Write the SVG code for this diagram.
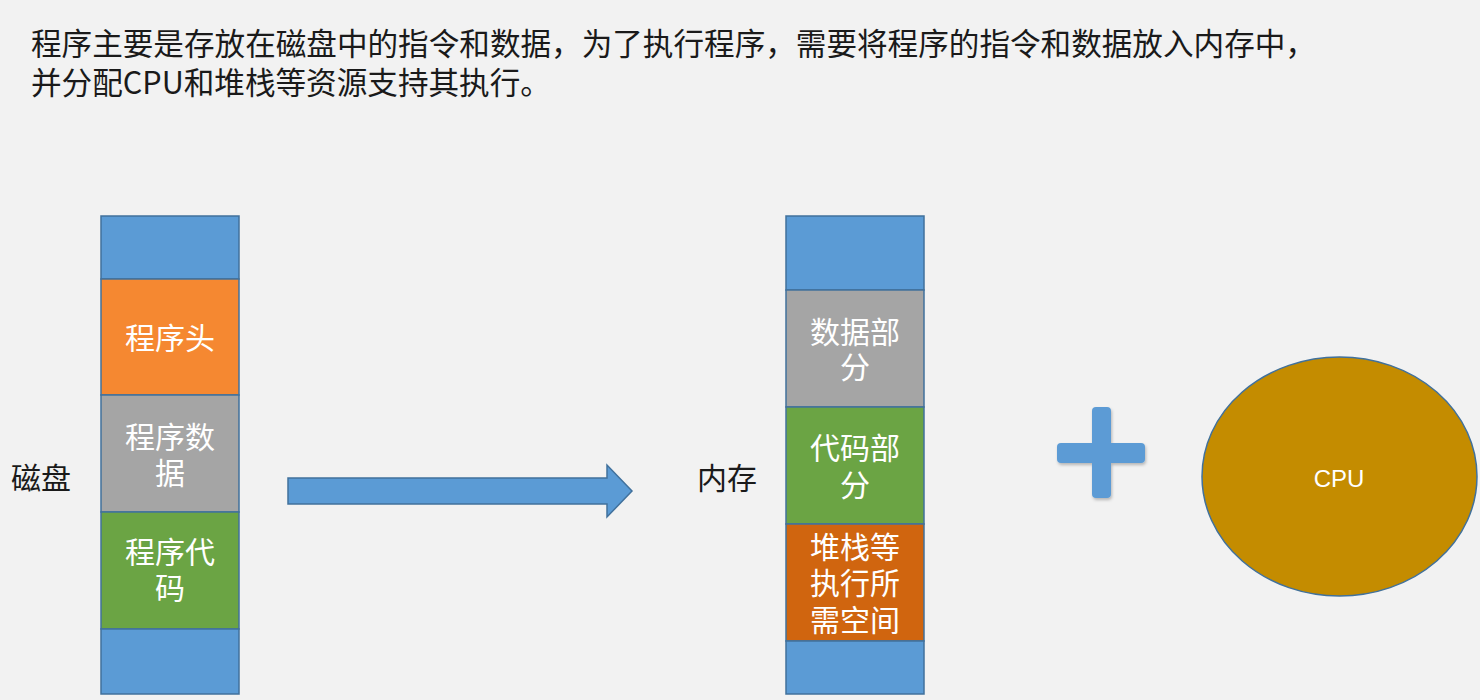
<svg xmlns="http://www.w3.org/2000/svg" width="1480" height="700" viewBox="0 0 1480 700">
<defs>
<style>
.t{font-family:"Noto Sans CJK SC","Noto Sans",sans-serif;font-size:30px;fill:#1a1a1a}
.h{font-size:30.6px}
.w{font-family:"Noto Sans CJK SC","Noto Sans",sans-serif;font-size:30px;fill:#ffffff;text-anchor:middle}
.seg{stroke:#41719C;stroke-width:1.5}
.blue{fill:#5B9BD5}
</style>
<filter id="sh" x="-20%" y="-20%" width="140%" height="140%">
<feDropShadow dx="1" dy="2" stdDeviation="1.5" flood-color="#000" flood-opacity="0.25"/>
</filter>
</defs>
<rect x="0" y="0" width="1480" height="700" fill="#F2F2F2"/>
<text class="t h" x="31" y="55">程序主要是存放在磁盘中的指令和数据，为了执行程序，需要将程序的指令和数据放入内存中，<tspan x="31" dy="39">并分配CPU和堆栈等资源支持其执行。</tspan></text>

<g id="disk">
<rect class="seg blue" x="101" y="216" width="138" height="63"/>
<rect class="seg" x="101" y="279" width="138" height="116" fill="#F58831"/>
<rect class="seg" x="101" y="395" width="138" height="117" fill="#A5A5A5"/>
<rect class="seg" x="101" y="512" width="138" height="117" fill="#6BA444"/>
<rect class="seg blue" x="101" y="629" width="138" height="65"/>
<text class="w" x="170" y="349">程序头</text>
<text class="w" x="170" y="448">程序数<tspan x="170" dy="36">据</tspan></text>
<text class="w" x="170" y="563">程序代<tspan x="170" dy="36">码</tspan></text>
<text class="t" x="11" y="489">磁盘</text>
</g>

<g id="memory">
<rect class="seg blue" x="786" y="216" width="138" height="74"/>
<rect class="seg" x="786" y="290" width="138" height="117" fill="#A5A5A5"/>
<rect class="seg" x="786" y="407" width="138" height="117" fill="#6BA444"/>
<rect class="seg" x="786" y="524" width="138" height="117" fill="#D0650F"/>
<rect class="seg blue" x="786" y="641" width="138" height="53"/>
<text class="w" x="855" y="343">数据部<tspan x="855" dy="35">分</tspan></text>
<text class="w" x="855" y="459">代码部<tspan x="855" dy="37">分</tspan></text>
<text class="w" x="855" y="558">堆栈等<tspan x="855" dy="36">执行所</tspan><tspan x="855" dy="37">需空间</tspan></text>
<text class="t" x="697" y="489">内存</text>
</g>

<g id="connectors">
<path d="M288,478 L607,478 L607,465 L632,491 L607,517 L607,504 L288,504 Z" fill="#5B9BD5" stroke="#41719C" stroke-width="1.5"/>
</g>

<g id="plus" filter="url(#sh)">
<rect x="1092" y="407" width="19" height="91" rx="4" fill="#5B9BD5"/>
<rect x="1057" y="443" width="88" height="20" rx="4" fill="#5B9BD5"/>
</g>

<g id="cpu">
<ellipse cx="1339.5" cy="476.5" rx="137.5" ry="119.5" fill="#C48C00" stroke="#41719C" stroke-width="1.5"/>
<text x="1339" y="487" font-family="'Liberation Sans',Arial,sans-serif" font-size="24" fill="#ffffff" text-anchor="middle">CPU</text>
</g>
</svg>
